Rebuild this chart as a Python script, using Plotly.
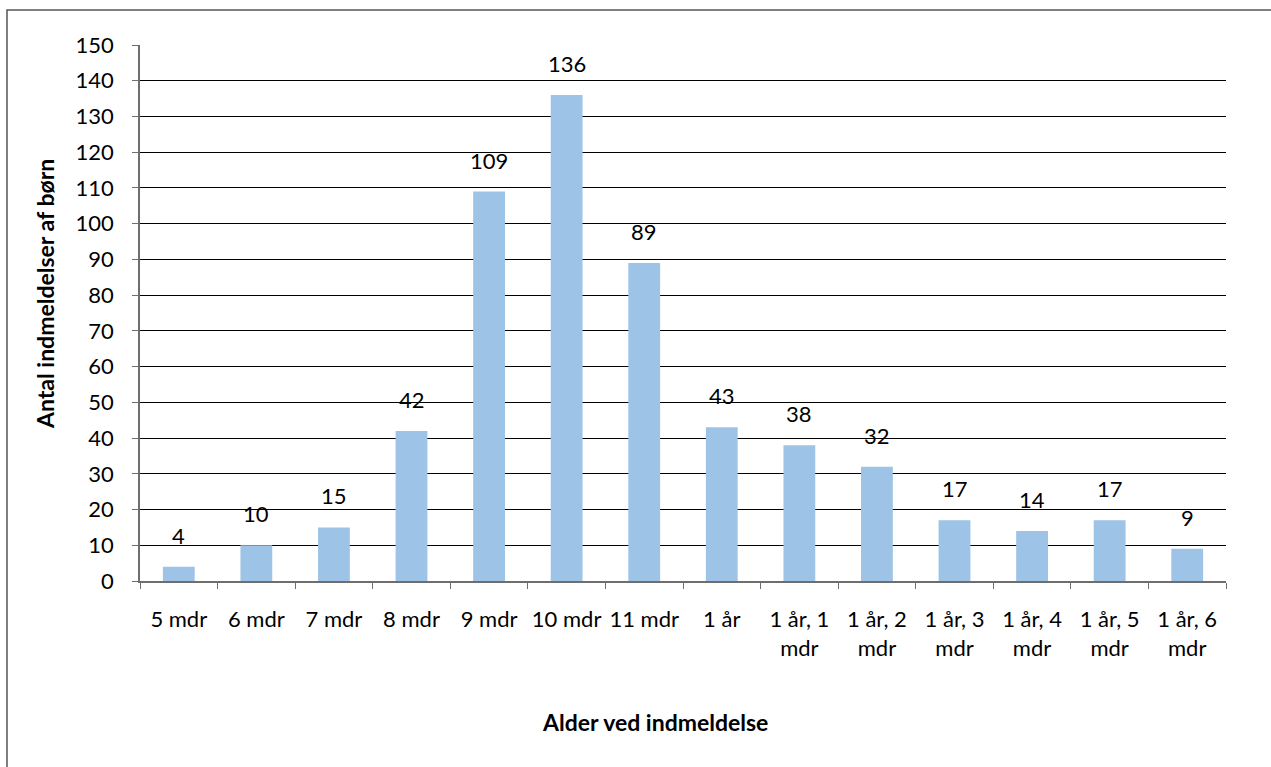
import plotly.graph_objects as go

categories = ["5 mdr", "6 mdr", "7 mdr", "8 mdr", "9 mdr", "10 mdr", "11 mdr", "1 år",
              "1 år, 1<br>mdr", "1 år, 2<br>mdr", "1 år, 3<br>mdr", "1 år, 4<br>mdr",
              "1 år, 5<br>mdr", "1 år, 6<br>mdr"]
values = [4, 10, 15, 42, 109, 136, 89, 43, 38, 32, 17, 14, 17, 9]
y_ticks = list(range(0, 151, 10))

FONT = "Lato"
W, H = 1271, 767
L, R, T, B = 140, 45, 45, 186
pw, ph = W - L - R, H - T - B

def px_x(x):
    return (x - L) / pw

def px_y(y):
    return (H - B - y) / ph

fig = go.Figure()
fig.add_trace(go.Bar(x=categories, y=values, marker=dict(color="#9DC3E6", line=dict(width=0)),
                     hoverinfo="x+y"))

for c, v in zip(categories, values):
    fig.add_annotation(x=c, y=v, text=str(v), showarrow=False, yanchor="bottom",
                       yshift=16, font=dict(family=FONT, size=22, color="#000000"))

fig.add_annotation(xref="paper", yref="paper", x=px_x(45), y=px_y(294), text="<b>Antal indmeldelser af børn</b>",
                   textangle=-90, showarrow=False, xanchor="center", yanchor="middle",
                   font=dict(family=FONT, size=23, color="#000000"))
fig.add_annotation(xref="paper", yref="paper", x=px_x(655), y=px_y(722), text="<b>Alder ved indmeldelse</b>",
                   showarrow=False, xanchor="center", yanchor="middle",
                   font=dict(family=FONT, size=23, color="#000000"))

# outer chart frame
fig.add_shape(type="rect", xref="paper", yref="paper", x0=px_x(7), x1=px_x(1300), y0=px_y(800), y1=px_y(10),
              line=dict(color="#555555", width=1.5), fillcolor="rgba(0,0,0,0)", layer="below")

fig.update_layout(
    width=W, height=H,
    margin=dict(l=L, r=R, t=T, b=B),
    paper_bgcolor="white", plot_bgcolor="white",
    bargap=0.59, showlegend=False,
    font=dict(family=FONT, size=22, color="#000000"),
)
fig.update_xaxes(type="category", tickson="boundaries", ticks="outside", ticklen=6, tickcolor="#6e6e6e",
                 showline=True, linecolor="#6e6e6e", linewidth=1.5, showgrid=False, tickangle=0,
                 tickfont=dict(family=FONT, size=22, color="#000000"), ticklabelstandoff=18)
fig.update_yaxes(range=[0, 150], tickvals=y_ticks, ticks="outside", ticklen=6, tickcolor="#6e6e6e",
                 showline=True, linecolor="#6e6e6e", linewidth=1.5, showgrid=True, gridcolor="#000000",
                 gridwidth=1, zeroline=False,
                 tickfont=dict(family=FONT, size=22, color="#000000"), ticklabelstandoff=14)

fig.write_html("out.html", config={"displayModeBar": False},
               post_script="document.body.style.margin='0';document.body.style.overflow='hidden';")
